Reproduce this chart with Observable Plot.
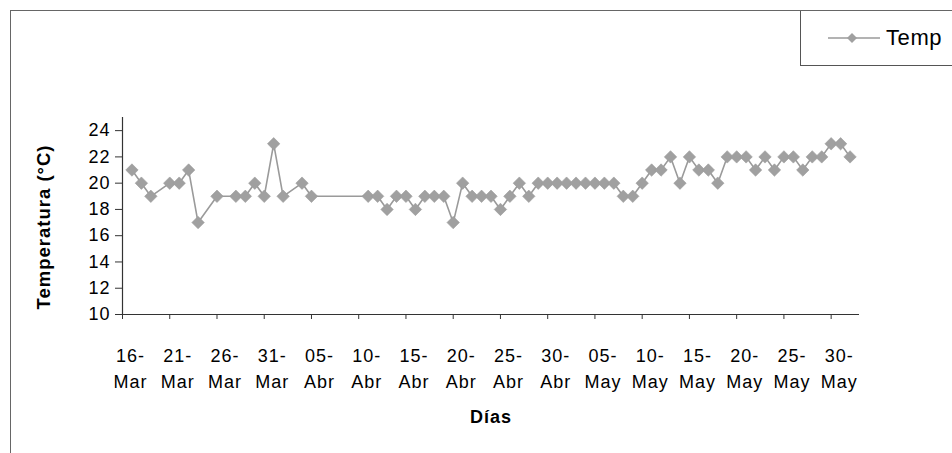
<!DOCTYPE html>
<html>
<head>
<meta charset="utf-8">
<script src="https://cdn.jsdelivr.net/npm/d3@7"></script>
<script src="https://cdn.jsdelivr.net/npm/@observablehq/plot@0.6"></script>
<style>
  html, body { margin: 0; padding: 0; background: #fff; }
  #chart { position: relative; width: 952px; height: 453px; overflow: hidden;
           font-family: "Liberation Sans", Arial, sans-serif; color: #000; }
  #marco { position: absolute; left: 10px; top: 10px; right: -4px; bottom: -4px;
           border-top: 1px solid #666; border-left: 1px solid #666; pointer-events: none; }
  #cabecera { position: relative; height: 65px; }
  #leyenda { position: absolute; left: 800px; top: 10px; width: 170px; height: 56px;
             border: 1px solid #555; box-sizing: border-box; display: flex; align-items: center; }
  #leyenda svg { margin-left: 26px; display: block; }
  #leyenda span { font-size: 22px; margin-left: 5px; letter-spacing: 0.6px; }
  #plot svg text { letter-spacing: 1px; }
</style>
</head>
<body>
<div id="chart">
  <div id="cabecera">
    <div id="leyenda">
      <svg width="54" height="14">
        <line x1="1" y1="7" x2="53" y2="7" stroke="#9a9a9a" stroke-width="1.5"></line>
        <path d="M25 2 L30 7 L25 12 L20 7 Z" fill="#a0a0a0"></path>
      </svg>
      <span>Temp</span>
    </div>
  </div>
  <div id="plot"></div>
  <div id="marco"></div>
</div>
<script>
// Temperatura diaria registrada (°C)
const fechas = [
  "17-Mar","18-Mar","19-Mar","21-Mar","22-Mar","23-Mar","24-Mar","26-Mar","28-Mar","29-Mar","30-Mar","31-Mar",
  "01-Abr","02-Abr","04-Abr","05-Abr","11-Abr","12-Abr","13-Abr","14-Abr","15-Abr","16-Abr","17-Abr","18-Abr",
  "19-Abr","20-Abr","21-Abr","22-Abr","23-Abr","24-Abr","25-Abr","26-Abr","27-Abr","28-Abr","29-Abr","30-Abr",
  "01-May","02-May","03-May","04-May","05-May","06-May","07-May","08-May","09-May","10-May","11-May","12-May",
  "13-May","14-May","15-May","16-May","17-May","18-May","19-May","20-May","21-May","22-May","23-May","24-May",
  "25-May","26-May","27-May","28-May","29-May","30-May","31-May","01-Jun"
];
const temps = [
  21, 20, 19, 20, 20, 21, 17, 19, 19, 19, 20, 19,
  23, 19, 20, 19, 19, 19, 18, 19, 19, 18, 19, 19,
  19, 17, 20, 19, 19, 19, 18, 19, 20, 19, 20, 20,
  20, 20, 20, 20, 20, 20, 20, 19, 19, 20, 21, 21,
  22, 20, 22, 21, 21, 20, 22, 22, 22, 21, 22, 21,
  22, 22, 21, 22, 22, 23, 23, 22
];
const ticksEje = ["16-Mar","21-Mar","26-Mar","31-Mar","05-Abr","10-Abr","15-Abr","20-Abr",
                  "25-Abr","30-Abr","05-May","10-May","15-May","20-May","25-May","30-May"];
const valoresY = [10, 12, 14, 16, 18, 20, 22, 24];
const limitesX = ["16-Mar", "02-Jun"];
const limitesY = [10, 25];

const meses = {Mar: 2, Abr: 3, May: 4, Jun: 5};
const aFecha = s => { const [d, m] = s.split("-"); return new Date(Date.UTC(2008, meses[m], +d)); };

const datos = fechas.map((f, i) => ({fecha: aFecha(f), temp: temps[i]}));
const fechasEje = ticksEje.map(aFecha);
const etiqueta = d => {
  const i = fechasEje.findIndex(t => +t === +d);
  return i < 0 ? "" : ticksEje[i].replace("-", "-\n");
};
const inicio = aFecha(limitesX[0]);

const grafico = Plot.plot({
  width: 952,
  height: 388,
  marginLeft: 122,
  marginRight: 93,
  marginTop: 52,
  marginBottom: 139,
  x: {type: "utc", domain: limitesX.map(aFecha)},
  y: {domain: limitesY},
  style: {fontFamily: "'Liberation Sans', Arial, sans-serif", fontSize: "18px", color: "#000", background: "transparent", overflow: "visible"},
  marks: [
    Plot.ruleY([limitesY[0]], {stroke: "#333", strokeWidth: 1.2}),
    Plot.ruleX([inicio], {stroke: "#333", strokeWidth: 1.2}),
    Plot.axisY({ticks: valoresY, tickSize: 7, tickPadding: 5, label: null, stroke: "#333", fontSize: 18}),
    Plot.axisX({ticks: fechasEje, tickSize: 5, tickFormat: () => "", label: null, stroke: "#333"}),
    Plot.axisX({ticks: fechasEje, tickSize: 0, tickPadding: 29, tickFormat: etiqueta, label: null,
                lineHeight: 1.45, fontSize: 18, dx: 8}),
    Plot.line(datos, {x: "fecha", y: "temp", stroke: "#9a9a9a", strokeWidth: 1.6}),
    Plot.dot(datos, {x: "fecha", y: "temp", symbol: "diamond2", r: 5.6, fill: "#a0a0a0", stroke: "#9c9c9c", strokeWidth: 0.6}),
    Plot.text(["Días"], {text: d => d, frameAnchor: "bottom", dy: 103, lineAnchor: "middle",
                         textAnchor: "middle", fontWeight: "bold", fontSize: 18}),
    Plot.text(["Temperatura (°C)"], {text: d => d, frameAnchor: "left", dx: -78, dy: 11, rotate: -90,
                                     lineAnchor: "middle", textAnchor: "middle", fontWeight: "bold", fontSize: 18.5})
  ]
});
document.getElementById("plot").appendChild(grafico);
</script>
</body>
</html>
